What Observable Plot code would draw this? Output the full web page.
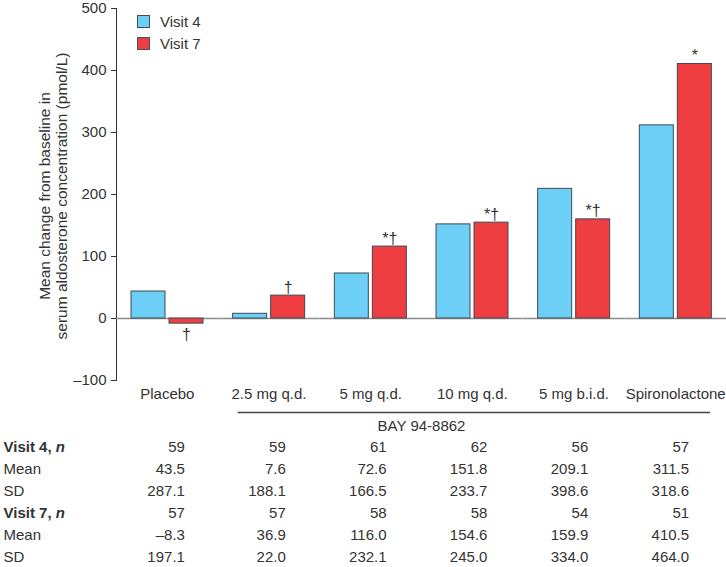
<!DOCTYPE html>
<html>
<head>
<meta charset="utf-8">
<script src="https://cdn.jsdelivr.net/npm/d3@7"></script>
<script src="https://cdn.jsdelivr.net/npm/@observablehq/plot@0.6"></script>
<style>
  body { margin: 0; background: #fff; }
  #wrap { position: relative; width: 726px; height: 567px; background: #fff;
          font-family: "Liberation Sans", Arial, Helvetica, sans-serif; color: #333; }
  #wrap svg { display: block; }
  .legend { position: absolute; left: 137px; top: 10.5px; font-size: 15px; color: #333; }
  .legend .item { display: flex; align-items: center; height: 22px; }
  .legend .sw { width: 13px; height: 13px; box-sizing: border-box; border: 1px solid #4a4f55; margin-right: 10px; }
</style>
</head>
<body>
<div id="wrap"></div>
<script>
// ---- data ----
const categories = ["Placebo", "2.5 mg q.d.", "5 mg q.d.", "10 mg q.d.", "5 mg b.i.d.", "Spironolactone"];
const visits = ["Visit 4", "Visit 7"];
const visit4N = [59, 59, 61, 62, 56, 57];
const visit4Mean = [43.5, 7.6, 72.6, 151.8, 209.1, 311.5];
const visit4SD = [287.1, 188.1, 166.5, 233.7, 398.6, 318.6];
const visit7N = [57, 57, 58, 58, 54, 51];
const visit7Mean = [-8.3, 36.9, 116.0, 154.6, 159.9, 410.5];
const visit7SD = [197.1, 22.0, 232.1, 245.0, 334.0, 464.0];
const visit4Marks = ["", "", "", "", "", ""];
const visit7Marks = ["†", "†", "*†", "*†", "*†", "*"];
const yTicks = [-100, 0, 100, 200, 300, 400, 500];
const yTitle = ["Mean change from baseline in", "serum aldosterone concentration (pmol/L)"];
const groupLabel = "BAY 94-8862";
const groupFrom = "2.5 mg q.d.";
const groupTo = "5 mg b.i.d.";
const rowLabels = ["Visit 4, n", "Mean", "SD", "Visit 7, n", "Mean", "SD"];
const colors = ["#6dcff6", "#ef3e42"];

const font = '"Liberation Sans", Arial, Helvetica, sans-serif';
const dash = v => (v < 0 ? "–" : "") + Math.abs(v);
const fmt1 = v => (v < 0 ? "–" : "") + Math.abs(v).toFixed(1);

const bars = categories.flatMap((c, i) => [
  {category: c, visit: visits[0], value: visit4Mean[i], mark: visit4Marks[i]},
  {category: c, visit: visits[1], value: visit7Mean[i], mark: visit7Marks[i]}
]);

const wrap = document.getElementById("wrap");

// ---- main chart ----
const chart = Plot.plot({
  width: 726, height: 406,
  marginTop: 8, marginBottom: 26, marginLeft: 116, marginRight: 0,
  style: {fontFamily: font, fontSize: "15px", color: "#333", background: "#fff", overflow: "visible"},
  facet: {data: bars, x: "category"},
  fx: {domain: categories, padding: 0, round: false, axis: "bottom", tickSize: 0, tickPadding: 8, label: null},
  x: {domain: visits, axis: null, paddingInner: 0.105, paddingOuter: 0.39},
  y: {domain: [-100, 500], ticks: yTicks, tickSize: 5, tickPadding: 5, line: true, label: null, tickFormat: dash},
  color: {domain: visits, range: colors},
  marks: [
    Plot.ruleY([0], {stroke: "#8c8c8c", strokeWidth: 1.5}),
    Plot.barY(bars, {x: "visit", y: "value", fill: "visit", stroke: "#3f4a54", strokeWidth: 1}),
    Plot.text(bars, {filter: d => d.mark && d.value >= 0, x: "visit", y: "value", text: "mark",
                     lineAnchor: "bottom", dy: -3, fill: "#333", fontSize: 16}),
    Plot.text(bars, {filter: d => d.mark && d.value < 0, x: "visit", y: "value", text: "mark",
                     lineAnchor: "top", dy: 5, fill: "#333", fontSize: 16})
  ]
});
wrap.appendChild(chart);

// y-axis title (two lines, rotated)
{
  const svg = d3.select(chart.tagName.toLowerCase() === "svg" ? chart : chart.querySelector("svg"));
  const t = svg.append("text")
    .attr("transform", "translate(0,196) rotate(-90)")
    .attr("text-anchor", "middle")
    .attr("fill", "#333")
    .style("font-size", "15.5px")
    .style("font-family", font);
  t.selectAll("tspan").data(yTitle).join("tspan")
    .attr("x", 0).attr("y", (d, i) => 50 + i * 17).text(d => d);
}

// legend
{
  const lg = d3.select(wrap).append("div").attr("class", "legend");
  const items = lg.selectAll("div").data(visits).join("div").attr("class", "item");
  items.append("span").attr("class", "sw").style("background", (d, i) => colors[i]);
  items.append("span").text(d => d);
}

// ---- group bracket ----
const bracketData = [{row: "line", from: groupFrom, to: categories[categories.indexOf(groupTo) + 1]}];
const bracket = Plot.plot({
  width: 726, height: 32,
  marginTop: 6, marginBottom: 12, marginLeft: 116, marginRight: 0,
  style: {fontFamily: font, fontSize: "15px", color: "#333", background: "#fff", overflow: "visible"},
  x: {type: "band", domain: categories, padding: 0, round: false, axis: null},
  y: {type: "point", domain: ["line", "label"], padding: 0, axis: null},
  marks: [
    Plot.ruleY(bracketData, {y: "row", x1: "from", x2: "to", insetLeft: 20, insetRight: 16, stroke: "#444", strokeWidth: 1.3}),
    Plot.text([{row: "label", text: groupLabel}], {y: "row", text: "text", fill: "#333"})
  ]
});
wrap.appendChild(bracket);

// ---- table ----
const rowKeys = ["v4n", "v4mean", "v4sd", "v7n", "v7mean", "v7sd"];
const rowValues = [
  visit4N.map(String), visit4Mean.map(fmt1), visit4SD.map(fmt1),
  visit7N.map(String), visit7Mean.map(fmt1), visit7SD.map(fmt1)
];
const rows = rowKeys.map((k, j) => ({key: k, label: rowLabels[j]}));
const cells = rowKeys.flatMap((k, j) => categories.map((c, i) => ({row: k, category: c, text: rowValues[j][i]})));

const table = Plot.plot({
  width: 726, height: 129,
  marginTop: 7, marginBottom: 9, marginLeft: 3, marginRight: 0,
  style: {fontFamily: font, fontSize: "15px", color: "#333", background: "#fff", overflow: "visible"},
  x: {type: "band", domain: categories, range: [118, 723], padding: 0, round: false, axis: null},
  y: {type: "point", domain: rowKeys, padding: 0, axis: null},
  marks: [
    Plot.text(rows, {y: "key", text: "label", frameAnchor: "left", textAnchor: "start", fill: "#333"}),
    Plot.text(cells, {x: "category", y: "row", text: "text", textAnchor: "end", dx: 16, fill: "#333"})
  ]
});
wrap.appendChild(table);

// bold row headers with italic n
d3.select(table).selectAll("text").each(function () {
  const s = this.textContent;
  const m = /^(Visit \d, )n$/.exec(s);
  if (m) {
    const el = d3.select(this).text("").attr("font-weight", "bold");
    el.append("tspan").text(m[1]);
    el.append("tspan").attr("font-style", "italic").text("n");
  }
});
</script>
</body>
</html>
